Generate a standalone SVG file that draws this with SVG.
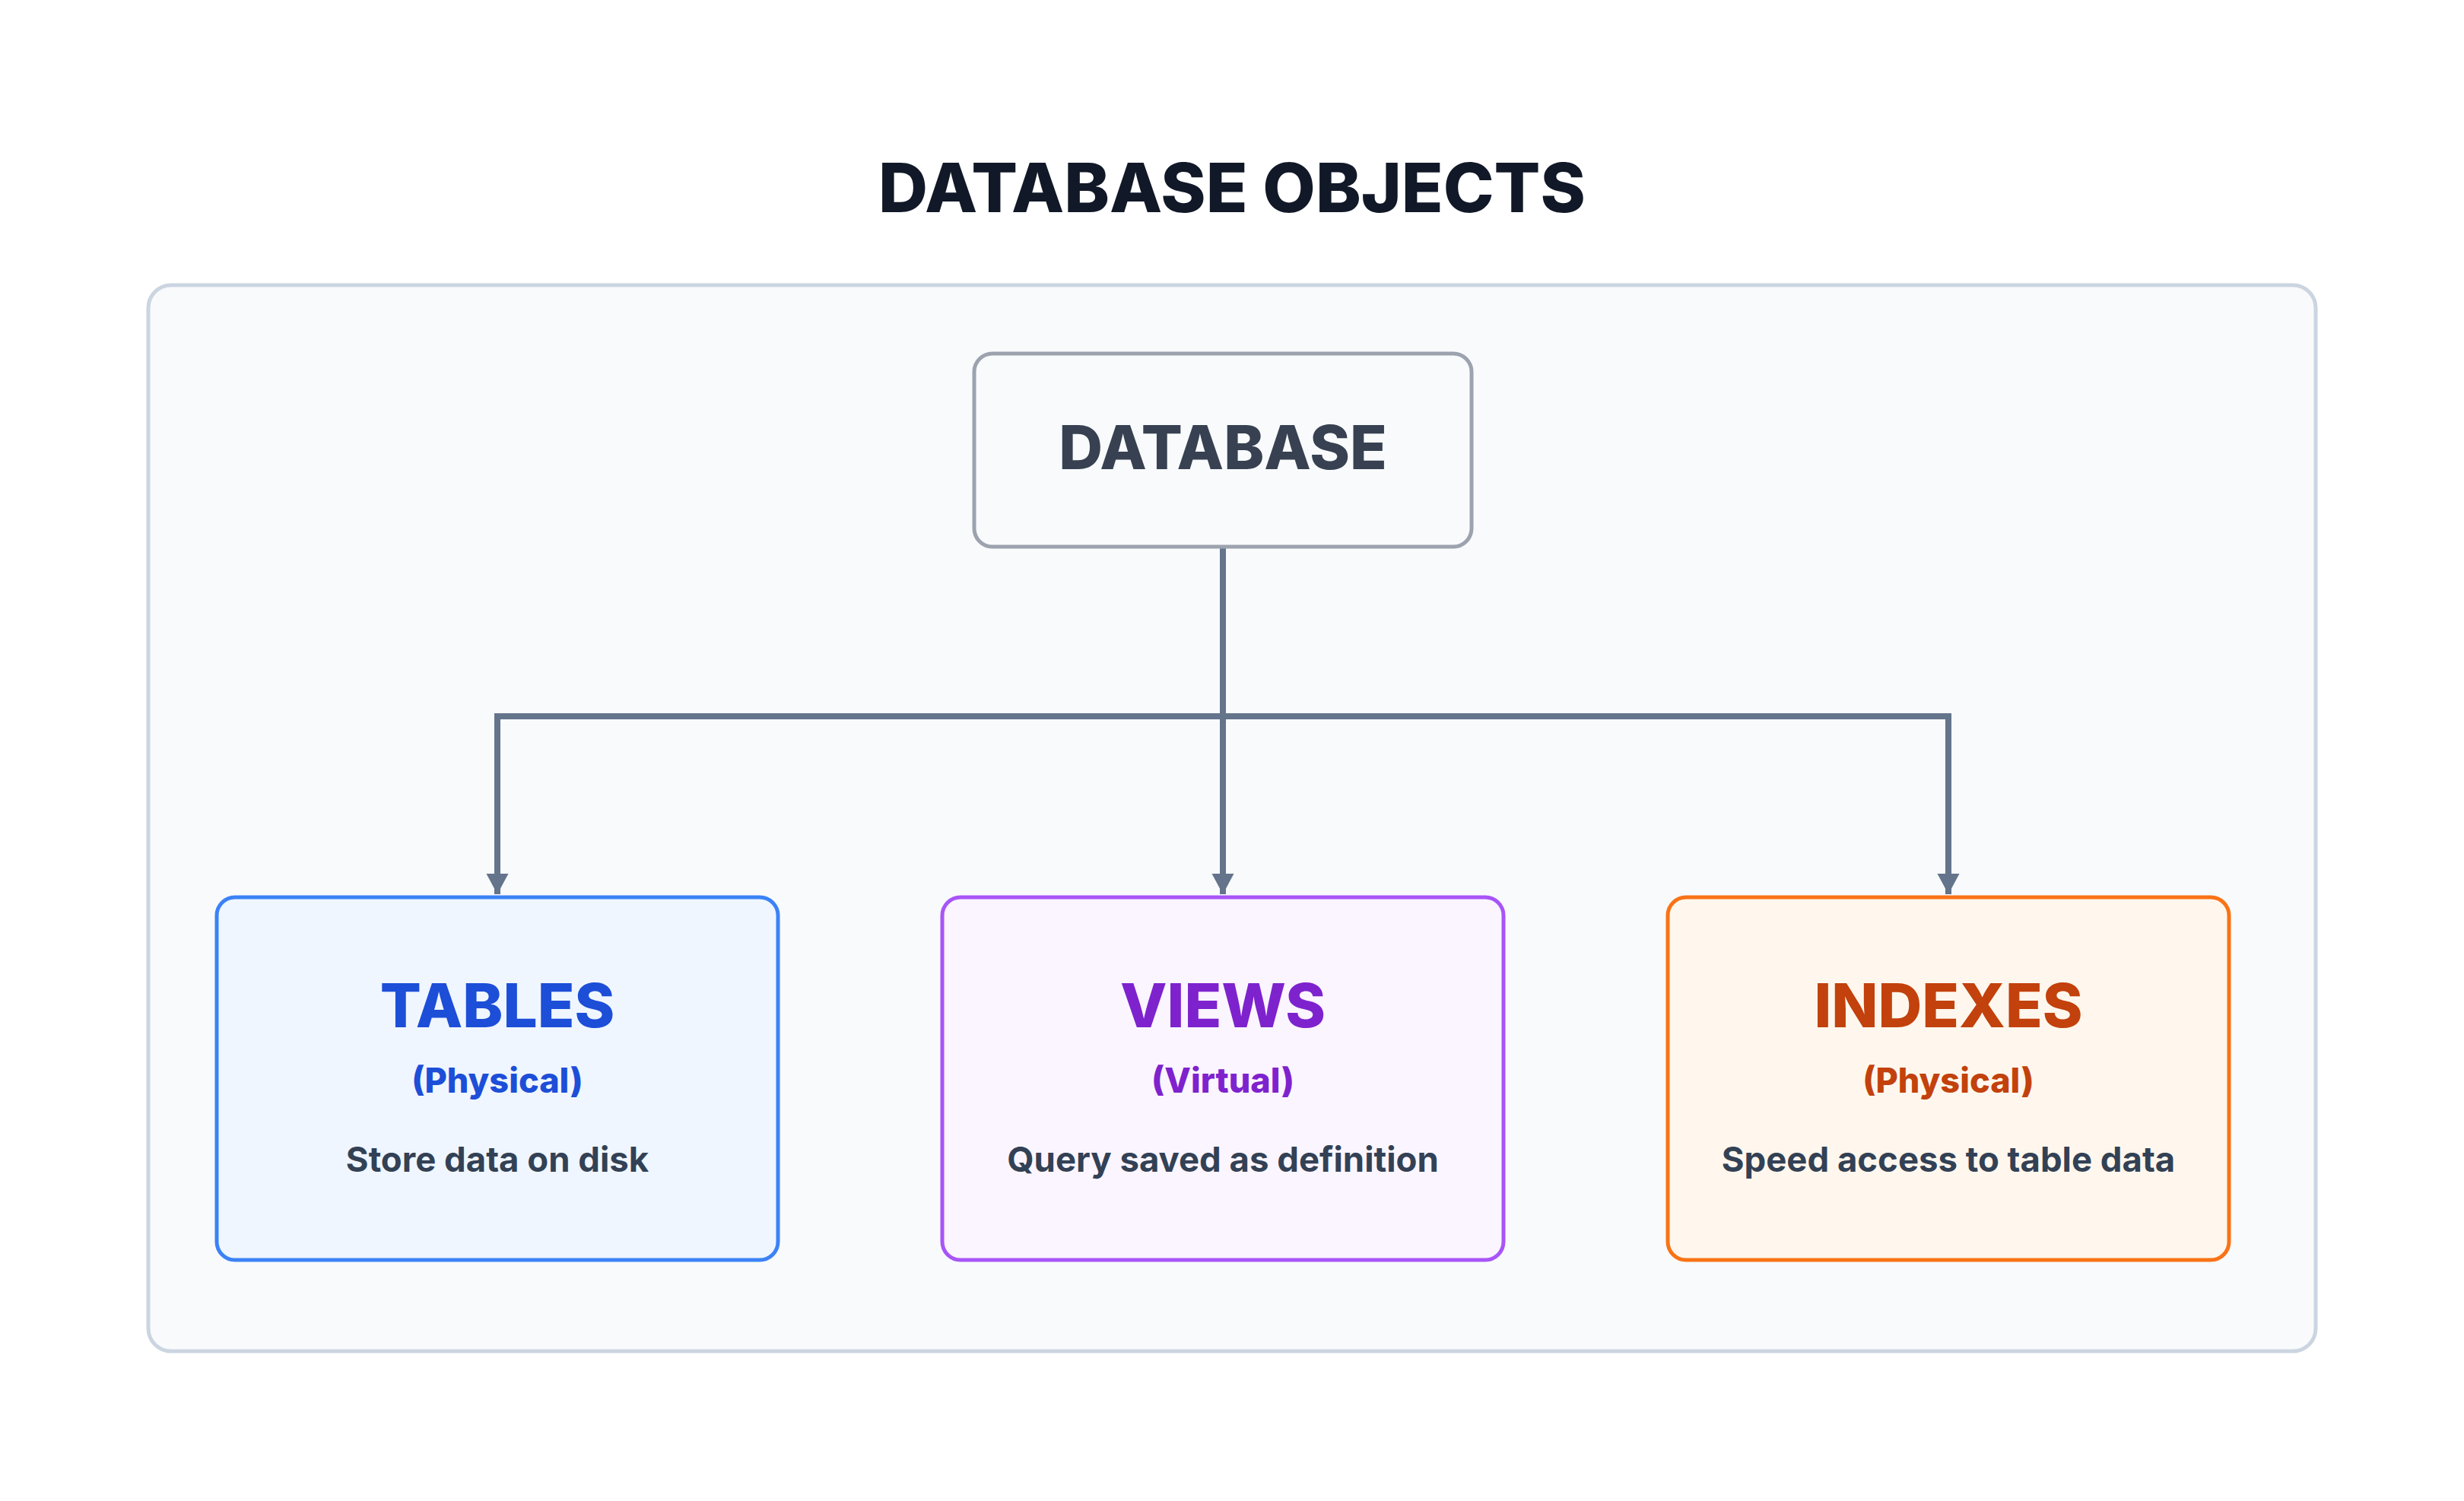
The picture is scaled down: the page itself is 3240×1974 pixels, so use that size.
<svg xmlns="http://www.w3.org/2000/svg" width="3240" height="1974" viewBox="0 0 3240 1974">
<style>
  text { font-family: Inter, "Noto Sans", "Liberation Sans", sans-serif; text-anchor: middle; }
  .title { font-size: 90px; font-weight: 800; fill: #111827; }
  .dbtext { font-size: 80px; font-weight: 800; fill: #374151; }
  .head { font-size: 80px; font-weight: 800; }
  .sub { font-size: 45px; font-weight: 800; }
  .desc { font-size: 45.5px; font-weight: 700; fill: #334155; }
  .box { stroke-width: 5; }
  .conn { fill: none; stroke: #64748b; stroke-width: 8; }
</style>
<defs>
  <marker id="arrow" markerUnits="userSpaceOnUse" markerWidth="28" markerHeight="30" viewBox="0 0 28 30" refX="27" refY="15" orient="auto">
    <path d="M0,0.5 L27,15 L0,29.5 z" fill="#64748b"/>
  </marker>
</defs>
<rect width="3240" height="1974" fill="#ffffff"/>
<text class="title" x="1620" y="279">DATABASE OBJECTS</text>
<g id="container">
  <rect x="195" y="375" width="2850" height="1402" rx="30" fill="#f8fafc" stroke="#cbd5e1" stroke-width="5"/>
</g>
<g id="connectors">
  <path class="conn" d="M1608,719 L1608,942"/>
  <path class="conn" d="M654,942 L2562,942"/>
  <path class="conn" d="M654,938 L654,1176" marker-end="url(#arrow)"/>
  <path class="conn" d="M1608,942 L1608,1176" marker-end="url(#arrow)"/>
  <path class="conn" d="M2562,938 L2562,1176" marker-end="url(#arrow)"/>
</g>
<g id="database">
  <rect x="1281" y="465" width="654" height="254" rx="24" fill="#f8fafc" stroke="#9ca3af" stroke-width="5"/>
  <text class="dbtext" x="1608" y="617">DATABASE</text>
</g>
<g id="tables">
  <rect class="box" x="285" y="1180" width="738" height="477" rx="24" fill="#eff6ff" stroke="#3b82f6"/>
  <text class="head" x="654" y="1351" fill="#1d4ed8">TABLES</text>
  <text class="sub" x="654" y="1437" fill="#1d4ed8">(Physical)</text>
  <text class="desc" x="654" y="1541">Store data on disk</text>
</g>
<g id="views">
  <rect class="box" x="1239" y="1180" width="738" height="477" rx="24" fill="#faf5ff" stroke="#a855f7"/>
  <text class="head" x="1608" y="1351" fill="#7e22ce">VIEWS</text>
  <text class="sub" x="1608" y="1437" fill="#7e22ce">(Virtual)</text>
  <text class="desc" x="1608" y="1541">Query saved as definition</text>
</g>
<g id="indexes">
  <rect class="box" x="2193" y="1180" width="738" height="477" rx="24" fill="#fff7ed" stroke="#f97316"/>
  <text class="head" x="2562" y="1351" fill="#c2410c">INDEXES</text>
  <text class="sub" x="2562" y="1437" fill="#c2410c">(Physical)</text>
  <text class="desc" x="2562" y="1541">Speed access to table data</text>
</g>
</svg>
